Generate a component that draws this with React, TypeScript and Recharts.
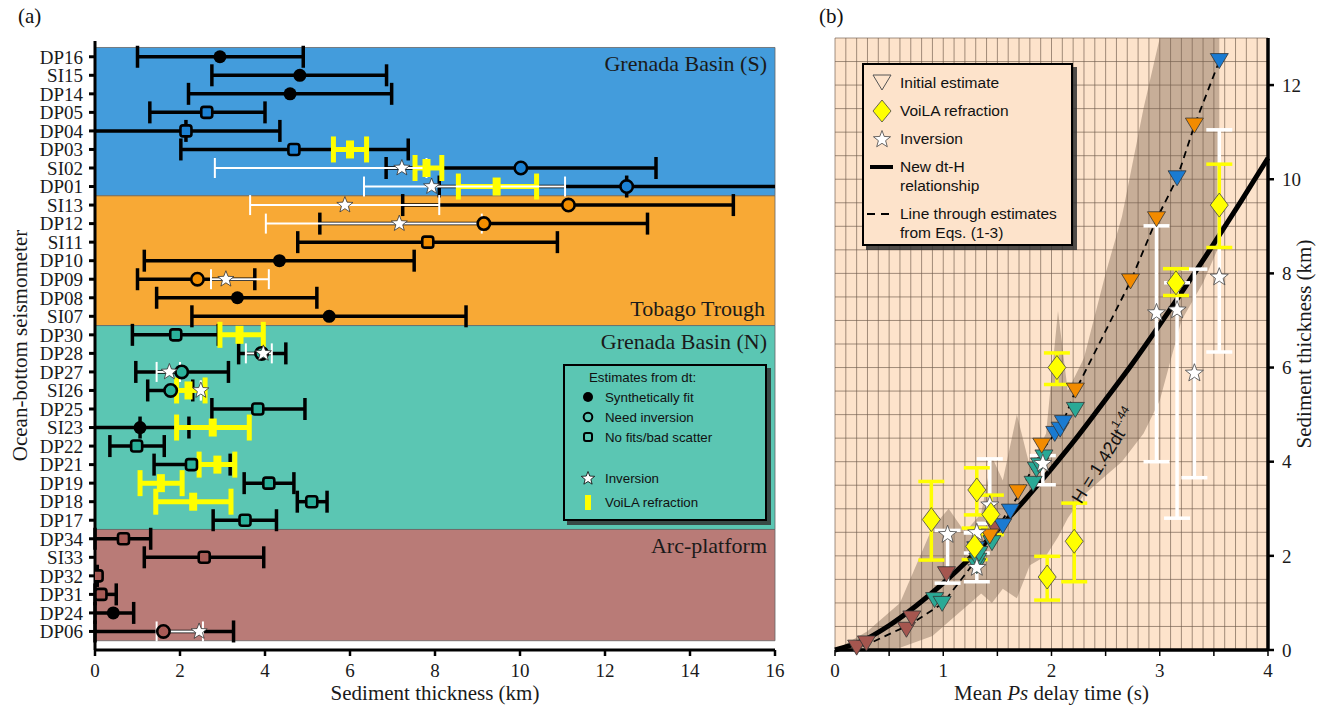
import React from 'react';
import {
  ScatterChart,
  ComposedChart,
  Scatter,
  Line,
  Area,
  XAxis,
  YAxis,
  ErrorBar,
  ReferenceArea,
  ReferenceDot,
  CartesianGrid,
  Legend,
} from 'recharts';

const SERIF = '"Liberation Serif", "Times New Roman", serif';
const SANS = '"Liberation Sans", Arial, Helvetica, sans-serif';

// ---------- panel (a): thickness per station ----------
const stations = ['DP16', 'SI15', 'DP14', 'DP05', 'DP04', 'DP03', 'SI02', 'DP01', 'SI13', 'DP12', 'SI11', 'DP10', 'DP09', 'DP08', 'SI07', 'DP30', 'DP28', 'DP27', 'SI26', 'DP25', 'SI23', 'DP22', 'DP21', 'DP19', 'DP18', 'DP17', 'DP34', 'SI33', 'DP32', 'DP31', 'DP24', 'DP06'];
const stationRegion = ['S', 'S', 'S', 'S', 'S', 'S', 'S', 'S', 'T', 'T', 'T', 'T', 'T', 'T', 'T', 'N', 'N', 'N', 'N', 'N', 'N', 'N', 'N', 'N', 'N', 'N', 'A', 'A', 'A', 'A', 'A', 'A'];
const dtEstimate = [2.94, 4.82, 4.59, 2.63, 2.14, 4.68, 10.02, 12.51, 11.14, 9.15, 7.83, 4.34, 2.41, 3.35, 5.51, 1.9, 3.92, 2.04, 1.78, 3.83, 1.06, 0.98, 2.27, 4.09, 5.1, 3.53, 0.67, 2.57, 0.05, 0.14, 0.43, 1.61];
const dtLow = [1.0, 2.75, 2.2, 1.29, -0.5, 2.02, 6.85, 8.1, 7.24, 5.29, 4.77, 1.16, 1.0, 1.45, 2.28, 0.88, 3.38, 0.96, 1.24, 2.75, -0.5, 0.35, 1.39, 3.51, 4.76, 2.78, 0, 1.16, 0.05, 0, 0, 0];
const dtHigh = [4.9, 6.86, 6.98, 4.0, 4.35, 7.37, 13.2, 17, 15.02, 13.0, 10.88, 7.51, 3.76, 5.22, 8.73, 2.9, 4.49, 3.14, 2.3, 4.94, 2.21, 1.63, 3.18, 4.68, 5.46, 4.27, 1.31, 3.97, 0.05, 0.5, 0.91, 3.26];
// fit = synthetically fit, inv = need inversion, bad = no fits / bad scatter
const dtKind = ['fit', 'fit', 'fit', 'bad', 'bad', 'bad', 'inv', 'inv', 'inv', 'inv', 'bad', 'fit', 'inv', 'fit', 'fit', 'bad', 'inv', 'inv', 'inv', 'bad', 'fit', 'bad', 'bad', 'bad', 'bad', 'bad', 'bad', 'bad', 'bad', 'bad', 'fit', 'inv'];

const voilaStations = ['DP03', 'SI02', 'DP01', 'DP30', 'SI26', 'SI23', 'DP21', 'DP19', 'DP18'];
const voilaValue = [6.0, 7.8, 9.45, 3.4, 2.2, 2.77, 2.88, 1.55, 2.31];
const voilaLow = [5.61, 7.53, 8.55, 2.94, 1.92, 1.92, 2.45, 1.06, 1.43];
const voilaHigh = [6.39, 8.16, 10.39, 3.96, 2.59, 3.63, 3.29, 2.05, 3.2];

const invStations = ['SI02', 'DP01', 'SI13', 'DP12', 'DP09', 'DP28', 'DP27', 'SI26', 'DP06'];
const invValue = [7.22, 7.92, 5.88, 7.16, 3.08, 3.96, 1.75, 2.49, 2.45];
const invLow = [2.82, 6.33, 3.65, 4.02, 2.73, 3.55, 1.45, 2.49, 1.45];
const invHigh = [7.8, 11.06, 8.1, 9.1, 4.09, 4.16, 2.0, 2.49, 2.54];

const regionOrder = ['S', 'T', 'N', 'A'];
const regionNames: Record<string, string> = {
  S: 'Grenada Basin (S)',
  T: 'Tobago Trough',
  N: 'Grenada Basin (N)',
  A: 'Arc-platform',
};
const xTicksA = [0, 2, 4, 6, 8, 10, 12, 14, 16];
const X_MIN_A = 0;
const X_MAX_A = 16;

// ---------- panel (b): delay time vs thickness ----------
const initDt = [0.2, 0.29, 0.66, 0.71, 1.03, 1.48, 0.92, 0.99, 1.31, 1.32, 1.33, 1.45, 1.83, 1.86, 1.89, 1.93, 2.22, 1.43, 1.69, 1.91, 2.22, 2.73, 2.97, 3.32, 1.3, 1.55, 1.62, 2.03, 2.08, 2.11, 3.16, 3.55];
const initH = [0.05, 0.14, 0.43, 0.67, 1.61, 2.57, 1.06, 0.98, 1.78, 1.9, 2.04, 2.27, 3.53, 3.83, 3.92, 4.09, 5.1, 2.41, 3.35, 4.34, 5.51, 7.83, 9.15, 11.14, 2.14, 2.63, 2.94, 4.59, 4.68, 4.82, 10.02, 12.51];
const initRegion = ['A', 'A', 'A', 'A', 'A', 'A', 'N', 'N', 'N', 'N', 'N', 'N', 'N', 'N', 'N', 'N', 'N', 'T', 'T', 'T', 'T', 'T', 'T', 'T', 'S', 'S', 'S', 'S', 'S', 'S', 'S', 'S'];

const refrDt = [0.89, 1.31, 1.29, 1.44, 1.96, 2.21, 2.05, 3.15, 3.55];
const refrH = [2.77, 3.4, 2.2, 2.88, 1.55, 2.31, 6.0, 7.8, 9.45];
const refrLow = [1.91, 2.87, 1.92, 2.45, 1.06, 1.45, 5.64, 7.53, 8.55];
const refrHigh = [3.58, 3.87, 2.59, 3.29, 1.99, 3.12, 6.31, 8.1, 10.32];

const invDt = [1.04, 1.31, 1.31, 1.43, 1.92, 2.97, 3.16, 3.32, 3.55];
const invH = [2.45, 2.49, 1.75, 3.08, 3.96, 7.16, 7.22, 5.88, 7.92];
const invLowB = [1.42, 2.49, 1.45, 2.69, 3.51, 4.0, 2.8, 3.66, 6.33];
const invHighB = [2.54, 2.49, 2.06, 4.06, 4.13, 9.01, 7.8, 8.09, 11.05];

const curveDt = [0, 0.25, 0.5, 0.75, 1, 1.25, 1.5, 1.75, 2, 2.25, 2.5, 2.75, 3, 3.25, 3.5, 3.75, 4];
const curveH = [0, 0.19, 0.52, 0.94, 1.42, 1.96, 2.55, 3.18, 3.85, 4.56, 5.32, 6.09, 6.91, 7.76, 8.63, 9.53, 10.45];

const eqDt = [0.15, 0.3, 0.7, 1.0, 1.3, 1.5, 1.7, 1.9, 2.1, 2.22, 2.73, 2.97, 3.16, 3.32, 3.55];
const eqH = [0, 0.12, 0.55, 1.0, 1.9, 2.6, 3.3, 4.2, 4.8, 5.5, 7.83, 9.15, 10.02, 11.14, 12.51];

const bandDt = [0, 0.3, 0.6, 0.9, 1.05, 1.2, 1.35, 1.45, 1.55, 1.68, 1.8, 1.95, 2.06, 2.15, 2.3, 2.5, 2.65, 2.85, 3.0, 3.2, 3.4, 3.55];
const bandLow = [0, 0, 0.05, 0.3, 0.6, 0.9, 1.2, 1.0, 1.3, 1.1, 1.8, 2.0, 2.4, 2.8, 3.3, 3.7, 4.0, 4.6, 5.3, 7.0, 7.8, 8.6];
const bandHigh = [0, 0.4, 1.0, 2.6, 3.0, 2.5, 2.9, 4.1, 3.6, 5.0, 3.9, 4.6, 7.2, 5.5, 6.2, 8.0, 9.2, 11.5, 13.0, 13.0, 13.0, 13.0];

const xTicksB = [0, 0.5, 1, 1.5, 2, 2.5, 3, 3.5, 4];
const yTicksB = [0, 2, 4, 6, 8, 10, 12];

// ---------- styles ----------
const bandColor: Record<string, string> = { S: '#439cdc', T: '#f8a935', N: '#5bc6b3', A: '#b97b77' };
const markColor: Record<string, string> = { S: '#1c82d4', T: '#f28e00', N: '#2cb29c', A: '#a85b56' };
const triColor: Record<string, string> = { S: '#1a7bd2', T: '#f28b00', N: '#2aa996', A: '#a5564f' };
const PEACH = '#fde3cb';

// ---------- tables built from the arrays ----------
// bars running past the axis limits are cut at the limit and drawn without a cap there
const rowsA = stations.map((name, i) => {
  const x = dtEstimate[i];
  const lowOpen = dtLow[i] < X_MIN_A;
  const highOpen = dtHigh[i] > X_MAX_A;
  const lo = Math.max(dtLow[i], X_MIN_A);
  const hi = Math.min(dtHigh[i], X_MAX_A);
  return {
    name,
    x,
    y: i,
    kind: dtKind[i],
    region: stationRegion[i],
    open: lowOpen || highOpen,
    err: [lowOpen ? 0 : x - lo, highOpen ? 0 : hi - x],
    openErr: [lowOpen ? x - lo : 0, highOpen ? hi - x : 0],
  };
});
const openRowsA = rowsA.filter((r) => r.open);
const voilaA = voilaStations.map((s, i) => ({
  x: voilaValue[i],
  y: stations.indexOf(s),
  err: [voilaValue[i] - voilaLow[i], voilaHigh[i] - voilaValue[i]],
}));
const invA = invStations.map((s, i) => ({
  x: invValue[i],
  y: stations.indexOf(s),
  err: [invValue[i] - invLow[i], invHigh[i] - invValue[i]],
}));
const bandsA = regionOrder.map((r) => {
  const first = stationRegion.indexOf(r);
  const last = stationRegion.lastIndexOf(r);
  return { r, y1: first - 0.5, y2: last + 0.5 };
});

const triB = initDt.map((x, i) => ({ x, y: initH[i], region: initRegion[i] }));
const refrB = refrDt.map((x, i) => ({ x, y: refrH[i], err: [refrH[i] - refrLow[i], refrHigh[i] - refrH[i]] }));
const invB = invDt.map((x, i) => ({ x, y: invH[i], err: [invH[i] - invLowB[i], invHighB[i] - invH[i]] }));
const curveB = curveDt.map((x, i) => ({ x, y: curveH[i] }));
const eqB = eqDt.map((x, i) => ({ x, y: eqH[i] }));
const bandB = bandDt.map((x, i) => ({ x, range: [bandLow[i], bandHigh[i]] }));

const gridX = Array.from({ length: 41 }, (_, i) => i / 10);
const gridY = Array.from({ length: 27 }, (_, i) => i / 2);

// ---------- marker shapes ----------
function starPath(cx: number, cy: number, ro: number, ri: number) {
  let d = '';
  for (let k = 0; k < 10; k++) {
    const r = k % 2 === 0 ? ro : ri;
    const a = -Math.PI / 2 + (k * Math.PI) / 5;
    d += (k === 0 ? 'M' : 'L') + (cx + r * Math.cos(a)).toFixed(2) + ',' + (cy + r * Math.sin(a)).toFixed(2);
  }
  return d + 'Z';
}

const EstimateShape = (p: any) => {
  const { cx, cy, payload } = p;
  if (payload.kind === 'fit') return <circle cx={cx} cy={cy} r={6.5} fill="#000" />;
  const fill = markColor[payload.region];
  if (payload.kind === 'inv') return <circle cx={cx} cy={cy} r={6.2} fill={fill} stroke="#000" strokeWidth={2.6} />;
  return <rect x={cx - 5.5} y={cy - 5.5} width={11} height={11} rx={2.5} fill={fill} stroke="#000" strokeWidth={2.6} />;
};
const NoShape = () => <g />;
const VoilaBarShape = (p: any) => <rect x={p.cx - 4} y={p.cy - 9} width={8} height={18} fill="#ffff00" />;
const StarA = (p: any) => <path d={starPath(p.cx, p.cy, 8.5, 3.6)} fill="#fff" stroke="#333" strokeWidth={0.8} />;

const TriShape = (p: any) => {
  const { cx, cy, payload } = p;
  const w = 18;
  const h = 15;
  return (
    <path
      d={`M${cx - w / 2},${cy - h / 2}L${cx + w / 2},${cy - h / 2}L${cx},${cy + h / 2}Z`}
      fill={triColor[payload.region]}
      stroke="#333"
      strokeWidth={0.8}
    />
  );
};
const DiamondShape = (p: any) => (
  <path d={`M${p.cx},${p.cy - 12}L${p.cx + 9},${p.cy}L${p.cx},${p.cy + 12}L${p.cx - 9},${p.cy}Z`} fill="#ffff00" stroke="#444" strokeWidth={0.8} />
);
const StarB = (p: any) => <path d={starPath(p.cx, p.cy, 9.5, 4)} fill="#fff" stroke="#444" strokeWidth={0.8} />;

// ---------- legends ----------
const LegendA = () => (
  <div
    style={{
      position: 'relative',
      width: 204,
      height: 157,
      boxSizing: 'border-box',
      border: '2.5px solid #000',
      background: bandColor.N,
      boxShadow: '4px 4px 0 rgba(50,50,50,0.85)',
      fontFamily: SANS,
      fontSize: 13.3,
      color: '#111',
    }}
  >
    <div style={{ position: 'absolute', left: 24, top: 4, whiteSpace: 'nowrap' }}>Estimates from dt:</div>
    {[
      { y: 33, label: 'Synthetically fit', icon: <circle cx={8} cy={8} r={5} fill="#000" /> },
      { y: 53, label: 'Need inversion', icon: <circle cx={8} cy={8} r={4.3} fill="none" stroke="#000" strokeWidth={2} /> },
      { y: 73, label: 'No fits/bad scatter', icon: <rect x={4} y={4} width={8} height={8} rx={2} fill="none" stroke="#000" strokeWidth={2} /> },
      { y: 114, label: 'Inversion', icon: <path d={starPath(8, 8.5, 7, 3)} fill="#fff" stroke="#000" strokeWidth={0.8} /> },
      { y: 138, label: 'VoiLA refraction', icon: <rect x={5} y={1} width={6} height={15} fill="#ffff00" /> },
    ].map((r) => (
      <div key={r.label}>
        <svg width={16} height={17} style={{ position: 'absolute', left: 15, top: r.y - 10 }}>
          {r.icon}
        </svg>
        <div style={{ position: 'absolute', left: 40, top: r.y - 10, lineHeight: '17px', whiteSpace: 'nowrap' }}>{r.label}</div>
      </div>
    ))}
  </div>
);

const LegendB = () => (
  <div
    style={{
      position: 'relative',
      width: 211,
      height: 183,
      boxSizing: 'border-box',
      border: '2.5px solid #000',
      background: PEACH,
      boxShadow: '4px 4px 0 rgba(50,50,50,0.85)',
      fontFamily: SANS,
      fontSize: 15.5,
      color: '#111',
    }}
  >
    {[
      { y: 18, lines: ['Initial estimate'], icon: <path d="M2,3L20,3L11,18Z" fill="none" stroke="#555" strokeWidth={1} /> },
      { y: 46, lines: ['VoiLA refraction'], icon: <path d="M11,0L20,11L11,22L2,11Z" fill="#ffff00" stroke="#444" strokeWidth={0.8} /> },
      { y: 74, lines: ['Inversion'], icon: <path d={starPath(11, 11.5, 9, 3.8)} fill="#fff" stroke="#444" strokeWidth={0.8} /> },
      { y: 102, lines: ['New dt-H', 'relationship'], icon: <line x1={-1} y1={11} x2={22} y2={11} stroke="#000" strokeWidth={4} /> },
      { y: 149, lines: ['Line through estimates', 'from Eqs. (1-3)'], icon: <line x1={-4} y1={11} x2={24} y2={11} stroke="#000" strokeWidth={2} strokeDasharray="8 6" /> },
    ].map((r) => (
      <div key={r.lines[0]}>
        <svg width={22} height={22} style={{ position: 'absolute', left: 7, top: r.y - 11, overflow: 'visible' }}>
          {r.icon}
        </svg>
        <div style={{ position: 'absolute', left: 36, top: r.y - 10, lineHeight: '19px', whiteSpace: 'nowrap' }}>
          {r.lines.map((l) => (
            <div key={l}>{l}</div>
          ))}
        </div>
      </div>
    ))}
  </div>
);

const tickA = { fontFamily: SERIF, fontSize: 19, fill: '#1a1a1a' };

export default function App() {
  return (
    <div style={{ position: 'absolute', left: 0, top: 0, width: 1322, height: 708, background: '#fff', overflow: 'hidden' }}>
      <div style={{ position: 'absolute', left: 18, top: 4, fontFamily: SERIF, fontSize: 21, color: '#111' }}>(a)</div>
      <div style={{ position: 'absolute', left: 819, top: 4, fontFamily: SERIF, fontSize: 21, color: '#111' }}>(b)</div>

      {/* panel (a) */}
      <div style={{ position: 'absolute', left: 0, top: 0 }}>
        <ScatterChart width={800} height={708} margin={{ top: 41, right: 25, bottom: 28, left: 35 }}>
          {bandsA.map((b) => (
            <ReferenceArea
              key={b.r}
              x1={0}
              x2={16}
              y1={b.y1}
              y2={b.y2}
              fill={bandColor[b.r]}
              fillOpacity={1}
              stroke="#666"
              strokeWidth={0.8}
              label={{
                value: regionNames[b.r],
                position: b.r === 'T' ? 'insideBottomRight' : 'insideTopRight',
                offset: b.r === 'T' ? 10 : 8,
                fontFamily: SERIF,
                fontSize: 22,
                fill: '#1a1a1a',
              }}
            />
          ))}
          <XAxis
            type="number"
            dataKey="x"
            domain={[X_MIN_A, X_MAX_A]}
            ticks={xTicksA}
            allowDataOverflow
            height={30}
            tick={tickA}
            tickSize={6}
            tickMargin={8}
            axisLine={{ stroke: '#000', strokeWidth: 3 }}
            tickLine={{ stroke: '#000', strokeWidth: 2.5 }}
            label={{ value: 'Sediment thickness (km)', position: 'insideBottom', offset: -20, fontFamily: SERIF, fontSize: 21, fill: '#1a1a1a' }}
          />
          <YAxis
            type="number"
            dataKey="y"
            domain={[-0.85, 32]}
            reversed
            allowDataOverflow
            ticks={stations.map((_, i) => i)}
            interval={0}
            tickFormatter={(v: number) => stations[v] ?? ''}
            width={60}
            tick={tickA}
            tickSize={6}
            tickMargin={6}
            axisLine={{ stroke: '#000', strokeWidth: 3 }}
            tickLine={{ stroke: '#000', strokeWidth: 3 }}
            label={{ value: 'Ocean-bottom seismometer', angle: -90, position: 'insideLeft', offset: -15, fontFamily: SERIF, fontSize: 21, fill: '#1a1a1a', style: { textAnchor: 'middle' } }}
          />
          <Scatter data={openRowsA} shape={NoShape} isAnimationActive={false}>
            <ErrorBar dataKey="openErr" direction="x" width={0} stroke="#000" strokeWidth={3.5} isAnimationActive={false} />
          </Scatter>
          <Scatter data={rowsA} shape={EstimateShape} isAnimationActive={false}>
            <ErrorBar dataKey="err" direction="x" width={11} stroke="#000" strokeWidth={3.5} isAnimationActive={false} />
          </Scatter>
          <Scatter data={voilaA} shape={VoilaBarShape} isAnimationActive={false}>
            <ErrorBar dataKey="err" direction="x" width={13} stroke="#ffff00" strokeWidth={5} isAnimationActive={false} />
          </Scatter>
          <Scatter data={invA} shape={StarA} isAnimationActive={false}>
            <ErrorBar dataKey="err" direction="x" width={10} stroke="#fff" strokeWidth={2} isAnimationActive={false} />
          </Scatter>
          <Legend
            content={() => <LegendA />}
            layout="vertical"
            align="center"
            verticalAlign="middle"
            wrapperStyle={{ left: 563, top: 364, width: 204, height: 157 }}
          />
        </ScatterChart>
      </div>

      {/* panel (b) */}
      <div style={{ position: 'absolute', left: 800, top: 0 }}>
        <ComposedChart width={522} height={708} margin={{ top: 38, right: 14, bottom: 28, left: 35 }}>
          <CartesianGrid
            fill={PEACH}
            fillOpacity={1}
            stroke="#6e5a4c"
            strokeOpacity={0.65}
            strokeWidth={1}
            verticalValues={gridX}
            horizontalValues={gridY}
          />
          <XAxis
            type="number"
            dataKey="x"
            domain={[0, 4]}
            ticks={xTicksB}
            interval={0}
            tickFormatter={(v: number) => (Number.isInteger(v) ? String(v) : '')}
            height={30}
            tick={tickA}
            tickSize={6}
            tickMargin={8}
            axisLine={{ stroke: '#000', strokeWidth: 3.5 }}
            tickLine={{ stroke: '#000', strokeWidth: 1.5 }}
            label={{
              position: 'insideBottom',
              content: (lp: any) => {
                const vb = lp.viewBox || {};
                return (
                  <text x={vb.x + vb.width / 2} y={vb.y + 50} textAnchor="middle" fontFamily={SERIF} fontSize={21} fill="#1a1a1a">
                    Mean <tspan fontStyle="italic">Ps</tspan> delay time (s)
                  </text>
                );
              },
            }}
          />
          <YAxis
            type="number"
            dataKey="y"
            orientation="right"
            domain={[0, 13]}
            ticks={yTicksB}
            interval={0}
            width={40}
            tick={tickA}
            tickSize={6}
            tickMargin={8}
            axisLine={{ stroke: '#000', strokeWidth: 3.5 }}
            tickLine={{ stroke: '#000', strokeWidth: 2.5 }}
            label={{
              position: 'insideRight',
              content: (lp: any) => {
                const vb = lp.viewBox || {};
                const x = vb.x + 43;
                const y = vb.y + vb.height / 2;
                return (
                  <text x={x} y={y} transform={`rotate(-90 ${x} ${y})`} textAnchor="middle" fontFamily={SERIF} fontSize={21} fill="#1a1a1a">
                    Sediment thickness (km)
                  </text>
                );
              },
            }}
          />
          <Area data={bandB} dataKey="range" type="linear" fill="#7d6452" fillOpacity={0.42} stroke="none" isAnimationActive={false} />
          <Line data={curveB} dataKey="y" type="monotone" stroke="#000" strokeWidth={5} dot={false} isAnimationActive={false} />
          <Line data={eqB} dataKey="y" type="linear" stroke="#000" strokeWidth={1.8} strokeDasharray="7 5" dot={false} isAnimationActive={false} />
          <Scatter data={triB} dataKey="y" shape={TriShape} isAnimationActive={false} />
          <Scatter data={invB} dataKey="y" shape={StarB} isAnimationActive={false}>
            <ErrorBar dataKey="err" direction="y" width={13} stroke="#fff" strokeWidth={3.5} isAnimationActive={false} />
          </Scatter>
          <Scatter data={refrB} dataKey="y" shape={DiamondShape} isAnimationActive={false}>
            <ErrorBar dataKey="err" direction="y" width={13} stroke="#ffff00" strokeWidth={3.5} isAnimationActive={false} />
          </Scatter>
          <ReferenceDot
            x={2.5}
            y={4.1}
            r={1}
            fill="none"
            stroke="none"
            label={{
              content: (lp: any) => {
                const vb = lp.viewBox || {};
                const x = (vb.x ?? 0) + (vb.width ?? 0) / 2;
                const y = (vb.y ?? 0) + (vb.height ?? 0) / 2;
                return (
                  <text x={x} y={y} transform={`rotate(-58 ${x} ${y})`} textAnchor="middle" dominantBaseline="middle" fontFamily={SANS} fontSize={18} fill="#111">
                    H = 1.42dt<tspan fontSize={12} dy={-8}>1.44</tspan>
                  </text>
                );
              },
            }}
          />
          <Legend
            content={() => <LegendB />}
            layout="vertical"
            align="center"
            verticalAlign="middle"
            wrapperStyle={{ left: 62, top: 63, width: 211, height: 183 }}
          />
        </ComposedChart>
      </div>
    </div>
  );
}
